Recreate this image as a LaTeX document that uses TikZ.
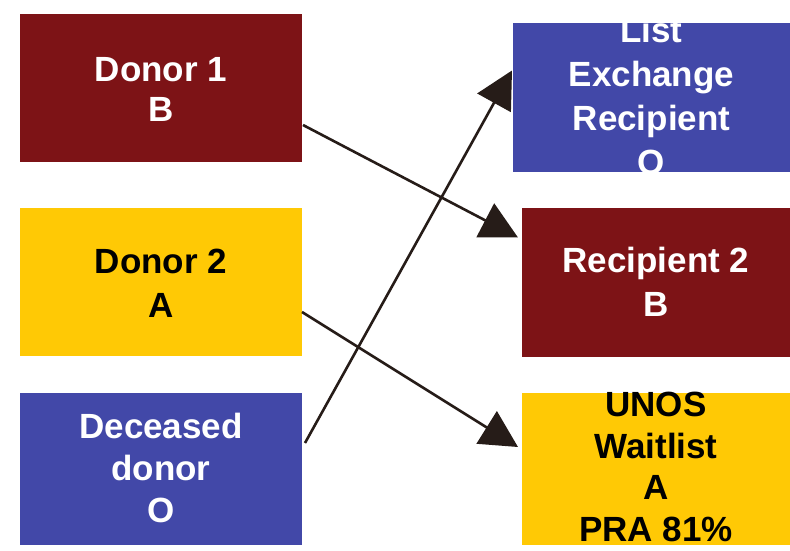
\documentclass[tikz,border=0pt]{standalone}
\usepackage{fontspec}
\setmainfont{Liberation Sans}
\usetikzlibrary{arrows.meta,calc}
\definecolor{kred}{RGB}{125,19,22}
\definecolor{kyellow}{RGB}{255,201,5}
\definecolor{kblue}{RGB}{66,72,168}
\definecolor{kline}{RGB}{38,28,24}
\begin{document}
\begin{tikzpicture}[x=1pt,y=-1pt,
  box/.style={draw=none, inner sep=0pt, outer sep=0pt},
  redbox/.style={box, fill=kred},
  yellowbox/.style={box, fill=kyellow},
  bluebox/.style={box, fill=kblue},
  boxtext/.style={inner sep=0pt, outer sep=0pt, align=center,
    font=\bfseries\fontsize{35}{#1}\selectfont},
  boxtext/.default=41,
  light/.style={text=white},
  dark/.style={text=black},
  link/.style={draw=kline, line width=2.6pt,
    -{Triangle[length=37pt,width=38pt]}}
]
\useasboundingbox[fill=white] (0,0) rectangle (790,551);

% donors on the left
\node[redbox, minimum width=282pt, minimum height=148pt] (d1) at (161,88) {};
\node[yellowbox, minimum width=282pt, minimum height=148pt] (d2) at (161,282) {};
\node[bluebox, minimum width=282pt, minimum height=152pt] (dd) at (161,469) {};

% recipients on the right
\node[bluebox, minimum width=277pt, minimum height=149pt] (le) at (651.5,97.5) {};
\node[redbox, minimum width=268pt, minimum height=149pt] (r2) at (656,282.5) {};
\node[yellowbox, minimum width=268pt, minimum height=152pt] (ux) at (656,469) {};

% box captions
\node[boxtext=40, light] (d1text) at ($(d1.center)+(0,1.5)$) {Donor 1\\B};
\node[boxtext=44, dark] (d2text) at ($(d2.center)+(0,1.5)$) {Donor 2\\A};
\node[boxtext=42, light] (ddtext) at ($(dd.center)+(0,-1.5)$) {Deceased\\donor\\O};
\begin{scope}
  \clip (le.north west) rectangle (le.south east);
  \node[boxtext=43.7, light] (letext) at ($(le.center)+(0,-1.5)$) {List\\Exchange\\Recipient\\O};
\end{scope}
\node[boxtext=44, light] (r2text) at ($(r2.center)+(0,-0.5)$) {Recipient 2\\B};
\node[boxtext=41.7, dark] (uxtext) at ($(ux.center)+(0,-2)$) {UNOS\\Waitlist\\A\\PRA 81\%};

% allocation arrows
\draw[link] ($(d1.east)+(1,37)$) -- ($(r2.west)+(-4,-45)$);
\draw[link] ($(d2.east)+(0,30)$) -- ($(ux.west)+(-4,-22)$);
\draw[link] ($(dd.east)+(3,-26)$) -- ($(le.west)+(-1,-27)$);
\end{tikzpicture}
\end{document}
